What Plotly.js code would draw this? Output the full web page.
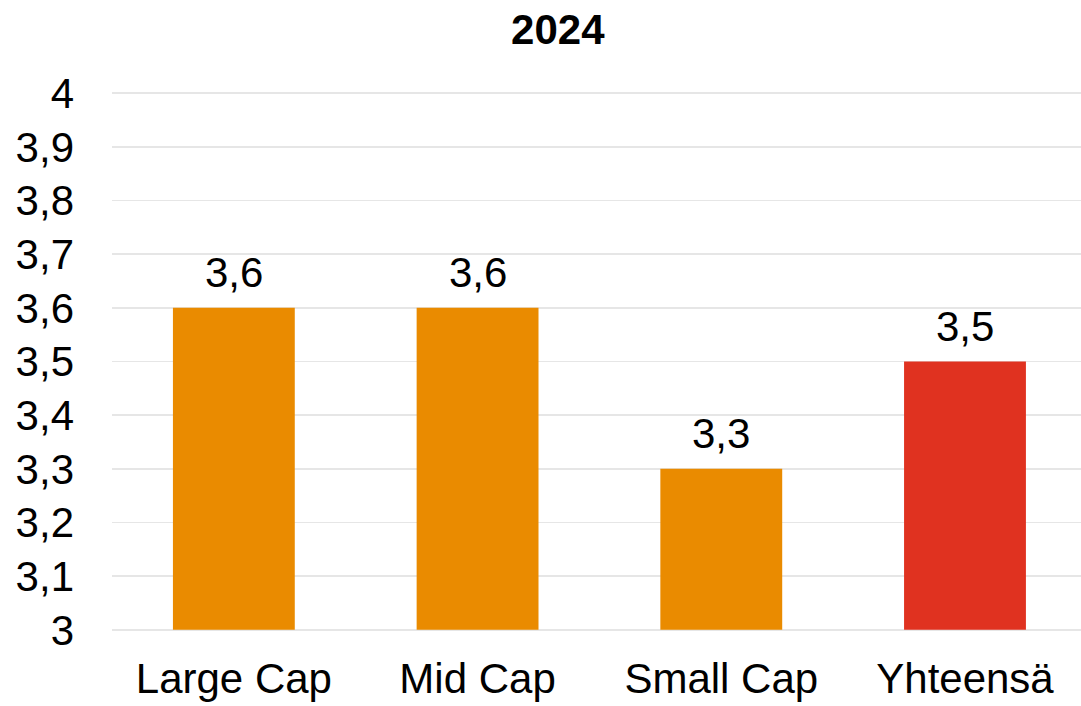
<!DOCTYPE html>
<html>
<head>
<meta charset="utf-8">
<script src="https://cdn.plot.ly/plotly-3.0.1.min.js"></script>
<style>html,body{margin:0;padding:0;background:#fff;}#chart{width:1081px;height:706px;}</style>
</head>
<body>
<div id="chart"></div>
<script>
const categories = ["Large Cap", "Mid Cap", "Small Cap", "Yhteensä"];
const values = [3.6, 3.6, 3.3, 3.5];
const labels = ["3,6", "3,6", "3,3", "3,5"];
const barColors = ["#EA8B00", "#EA8B00", "#EA8B00", "#E03220"];
const tickVals = [3, 3.1, 3.2, 3.3, 3.4, 3.5, 3.6, 3.7, 3.8, 3.9, 4];
const tickText = ["3", "3,1", "3,2", "3,3", "3,4", "3,5", "3,6", "3,7", "3,8", "3,9", "4"];

const font = "Liberation Sans, Arial, sans-serif";
const axisMin = 3;

const trace = {
  type: "bar",
  x: categories,
  y: values.map(v => v - axisMin),
  base: axisMin,
  marker: {color: barColors},
  width: 0.5,
  hoverinfo: "none"
};

const annotations = categories.map((c, i) => ({
  x: c, y: values[i], xref: "x", yref: "y",
  text: labels[i], showarrow: false,
  yanchor: "bottom", yshift: 10,
  font: {family: font, size: 42, color: "#000"}
}));

const layout = {
  width: 1081, height: 706,
  margin: {l: 112, r: 0, t: 91, b: 74, pad: 0},
  paper_bgcolor: "#fff", plot_bgcolor: "#fff",
  showlegend: false,
  title: {text: "<b>2024</b>", x: 0.516, xanchor: "center", y: 0.958, yanchor: "middle",
          font: {family: font, size: 42, color: "#000"}},
  xaxis: {
    type: "category", range: [-0.5, 3.476],
    showgrid: false, zeroline: false, showline: false,
    tickfont: {family: font, size: 42, color: "#000"},
    ticks: "", ticklabelstandoff: 18
  },
  yaxis: {
    range: [2.996, 4.004], tickvals: tickVals, ticktext: tickText,
    showgrid: true, gridcolor: "#e6e6e6", gridwidth: 1.5,
    zeroline: false, showline: false, ticks: "",
    ticklabelstandoff: 37,
    tickfont: {family: font, size: 42, color: "#000"}
  },
  annotations: annotations
};

Plotly.newPlot("chart", [trace], layout, {displayModeBar: false, staticPlot: true});
</script>
</body>
</html>
